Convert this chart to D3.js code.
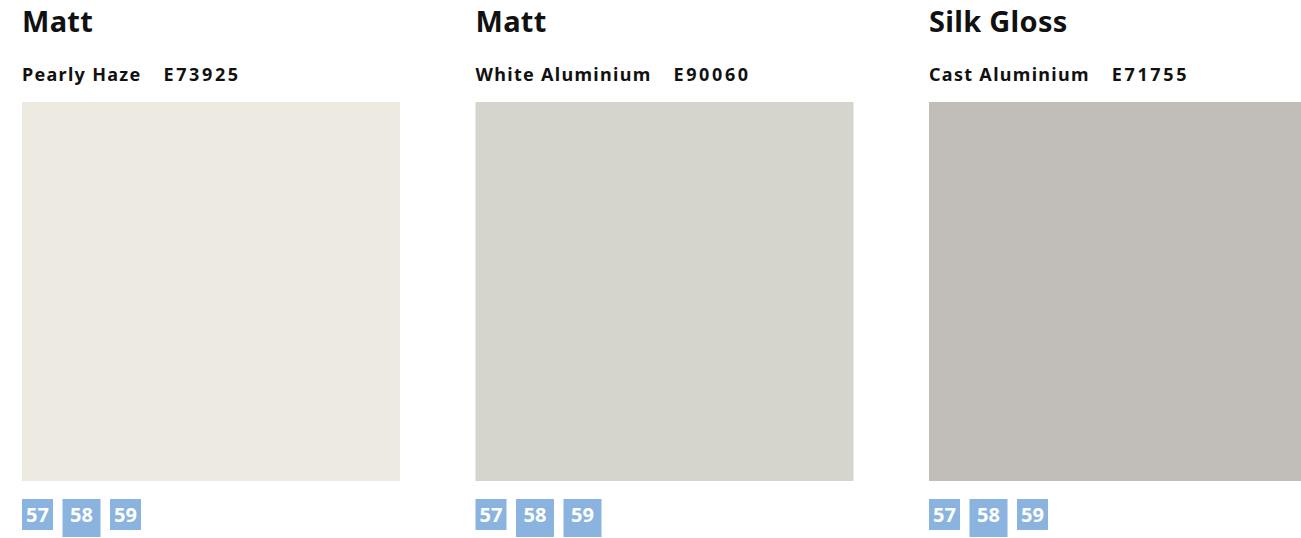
<!DOCTYPE html>
<html lang="en">
<head>
<meta charset="utf-8">
<title>Finishes</title>
<script src="https://cdn.jsdelivr.net/npm/d3@7"></script>
<style>
  body { margin: 0; background: #fff; font-family: "Noto Sans", sans-serif; }
</style>
</head>
<body>
<div id="chart"></div>
<script>
// data
var finishes = ["Matt", "Matt", "Silk Gloss"]
var colourNames = ["Pearly Haze", "White Aluminium", "Cast Aluminium"]
var colourCodes = ["E73925", "E90060", "E71755"]
var swatchColours = ["#edeae2", "#d5d5ce", "#c1beb9"]
var pages = ["57", "58", "59"]

// badge box sizes per column (style only)
var badgeSizes = [[31, 38, 31], [31, 38, 38], [31, 38, 31]]

var W = 1301, H = 538
var svg = d3.select("#chart").append("svg")
  .attr("width", W).attr("height", H)

var ids = d3.range(finishes.length)
var x = d3.scaleBand().domain(ids).range([22, 1307]).paddingInner(0.1665).paddingOuter(0)
var swatchTop = 102, swatchBottom = 481

var col = svg.selectAll("g.col")
  .data(ids)
  .enter().append("g")
  .attr("class", "col")
  .attr("transform", function(i){ return "translate(" + x(i) + ",0)" })

col.append("text")
  .attr("x", 0).attr("y", 32)
  .attr("font-size", "29px")
  .attr("font-weight", "bold")
  .attr("letter-spacing", "0.3px")
  .attr("fill", "#111")
  .text(function(i){ return finishes[i] })

var sub = col.append("text")
  .attr("x", 0).attr("y", 81)
  .attr("font-size", "18px")
  .attr("font-weight", "bold")
  .attr("fill", "#111")
sub.append("tspan").attr("letter-spacing", "1.3px").text(function(i){ return colourNames[i] })
sub.append("tspan").attr("dx", 22).attr("letter-spacing", "2.6px").text(function(i){ return colourCodes[i] })

col.append("rect")
  .attr("x", 0).attr("y", swatchTop)
  .attr("width", x.bandwidth())
  .attr("height", swatchBottom - swatchTop)
  .attr("fill", function(i){ return swatchColours[i] })

// page badges
col.each(function(i){
  var g = d3.select(this)
  var bx = 0
  pages.forEach(function(p, j){
    var s = badgeSizes[i][j]
    g.append("rect")
      .attr("x", bx).attr("y", 499)
      .attr("width", s).attr("height", s)
      .attr("fill", "#8ab4df")
    g.append("text")
      .attr("x", bx + s / 2).attr("y", 499 + 15.5)
      .attr("text-anchor", "middle")
      .attr("dominant-baseline", "central")
      .attr("font-size", "20px")
      .attr("font-weight", "bold")
      .attr("fill", "#fff")
      .text(p)
    bx += s + 9.5
  })
})
</script>
</body>
</html>
